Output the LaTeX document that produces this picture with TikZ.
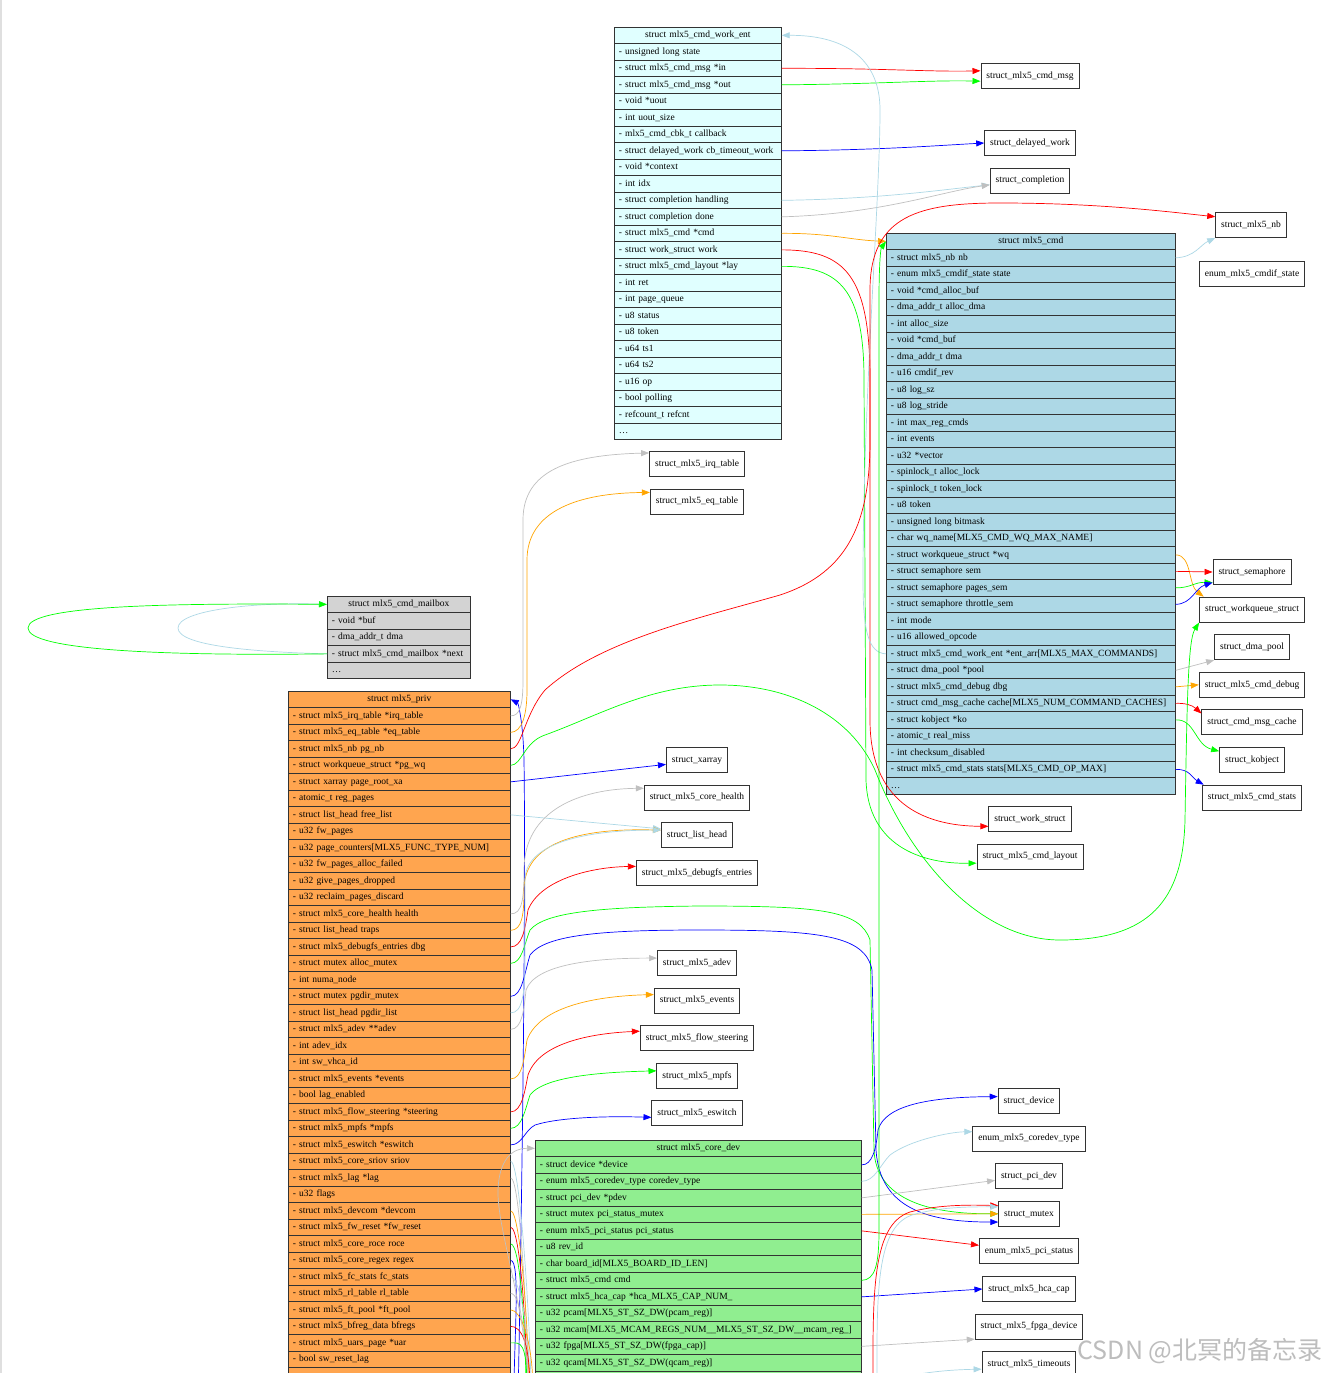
\documentclass[tikz,border=0pt]{standalone}
\usepackage{fontspec}
\setmainfont{Liberation Serif}
\newfontfamily\wmfont{Noto Sans CJK SC}
\usetikzlibrary{arrows.meta,positioning}
\definecolor{entfill}{RGB}{224,255,255}
\definecolor{cmdfill}{RGB}{173,216,230}
\definecolor{mboxfill}{RGB}{211,211,211}
\definecolor{privfill}{RGB}{255,165,79}
\definecolor{corefill}{RGB}{144,238,144}
\definecolor{ered}{RGB}{255,0,0}
\definecolor{egreen}{RGB}{0,255,0}
\definecolor{eblue}{RGB}{0,0,255}
\definecolor{egray}{RGB}{192,192,192}
\definecolor{elblue}{RGB}{173,216,230}
\definecolor{eorange}{RGB}{255,165,0}

\begin{document}
\begin{tikzpicture}[x=1pt,y=-1pt,node distance=11.7pt,
  rowbox/.style={draw=black!80,line width=0.7pt,anchor=north west,minimum height=16.5pt,
                 inner xsep=4.5pt,inner ysep=0pt,text height=7pt,text depth=2.5pt,
                 align=left,font=\fontsize{9.5}{11}\selectfont},
  headbox/.style={rowbox,align=center},
  typebox/.style={draw=black!80,line width=0.9pt,fill=white,minimum height=25pt,
                  inner xsep=5.5pt,text height=7pt,text depth=2.5pt,
                  font=\fontsize{9.5}{11}\selectfont},
  arr/.style={-{Triangle[length=8pt,width=6pt]},line width=0.7pt}]
  \useasboundingbox (0,0) rectangle (1329,1373);
  \clip (0,0) rectangle (1329,1373);
  \fill[white] (0,0) rectangle (1329,1373);
  \draw[gray!25,line width=2pt] (1,0) -- (1,1373);

  \node[headbox,fill=entfill,text width=158pt] (ent0) at (614,26.75) {struct mlx5\_cmd\_work\_ent};
  \foreach \fld [count=\i] in {- unsigned long state,- struct mlx5\_cmd\_msg *in,- struct mlx5\_cmd\_msg *out,
      - void *uout,- int uout\_size,- mlx5\_cmd\_cbk\_t callback,- struct delayed\_work cb\_timeout\_work,
      - void *context,- int idx,- struct completion handling,- struct completion done,
      - struct mlx5\_cmd *cmd,- struct work\_struct work,- struct mlx5\_cmd\_layout *lay,- int ret,
      - int page\_queue,- u8 status,- u8 token,- u64 ts1,- u64 ts2,- u16 op,- bool polling,
      - refcount\_t refcnt,\ldots}
    \node[rowbox,fill=entfill,text width=158pt] (ent\i) at (614,{26.75+16.5*\i}) {\mbox{\fld}};

  \node[headbox,fill=cmdfill,text width=280pt] (cmd0) at (886,232.75) {struct mlx5\_cmd};
  \foreach \fld [count=\i] in {- struct mlx5\_nb nb,- enum mlx5\_cmdif\_state state,- void *cmd\_alloc\_buf,
      - dma\_addr\_t alloc\_dma,- int alloc\_size,- void *cmd\_buf,- dma\_addr\_t dma,- u16 cmdif\_rev,
      - u8 log\_sz,- u8 log\_stride,- int max\_reg\_cmds,- int events,- u32 *vector,
      - spinlock\_t alloc\_lock,- spinlock\_t token\_lock,- u8 token,- unsigned long bitmask,
      - char wq\_name[MLX5\_CMD\_WQ\_MAX\_NAME],- struct workqueue\_struct *wq,
      - struct semaphore sem,- struct semaphore pages\_sem,- struct semaphore throttle\_sem,
      - int mode,- u16 allowed\_opcode,- struct mlx5\_cmd\_work\_ent *ent\_arr[MLX5\_MAX\_COMMANDS],
      - struct dma\_pool *pool,- struct mlx5\_cmd\_debug dbg,
      - struct cmd\_msg\_cache cache[MLX5\_NUM\_COMMAND\_CACHES],- struct kobject *ko,
      - atomic\_t real\_miss,- int checksum\_disabled,- struct mlx5\_cmd\_stats stats[MLX5\_CMD\_OP\_MAX],\ldots}
    \node[rowbox,fill=cmdfill,text width=280pt] (cmd\i) at (886,{232.75+16.5*\i}) {\mbox{\fld}};

  \node[headbox,fill=mboxfill,text width=134pt] (mbox0) at (327,595.75) {struct mlx5\_cmd\_mailbox};
  \foreach \fld [count=\i] in {- void *buf,- dma\_addr\_t dma,- struct mlx5\_cmd\_mailbox *next,\ldots}
    \node[rowbox,fill=mboxfill,text width=134pt] (mbox\i) at (327,{595.75+16.5*\i}) {\mbox{\fld}};

  \node[headbox,fill=privfill,text width=213pt] (priv0) at (288,690.75) {struct mlx5\_priv};
  \foreach \fld [count=\i] in {- struct mlx5\_irq\_table *irq\_table,- struct mlx5\_eq\_table *eq\_table,
      - struct mlx5\_nb pg\_nb,- struct workqueue\_struct *pg\_wq,- struct xarray page\_root\_xa,
      - atomic\_t reg\_pages,- struct list\_head free\_list,- u32 fw\_pages,
      - u32 page\_counters[MLX5\_FUNC\_TYPE\_NUM],- u32 fw\_pages\_alloc\_failed,
      - u32 give\_pages\_dropped,- u32 reclaim\_pages\_discard,- struct mlx5\_core\_health health,
      - struct list\_head traps,- struct mlx5\_debugfs\_entries dbg,- struct mutex alloc\_mutex,
      - int numa\_node,- struct mutex pgdir\_mutex,- struct list\_head pgdir\_list,
      - struct mlx5\_adev **adev,- int adev\_idx,- int sw\_vhca\_id,- struct mlx5\_events *events,
      - bool lag\_enabled,- struct mlx5\_flow\_steering *steering,- struct mlx5\_mpfs *mpfs,
      - struct mlx5\_eswitch *eswitch,- struct mlx5\_core\_sriov sriov,- struct mlx5\_lag *lag,
      - u32 flags,- struct mlx5\_devcom *devcom,- struct mlx5\_fw\_reset *fw\_reset,
      - struct mlx5\_core\_roce roce,- struct mlx5\_core\_regex regex,- struct mlx5\_fc\_stats fc\_stats,
      - struct mlx5\_rl\_table rl\_table,- struct mlx5\_ft\_pool *ft\_pool,
      - struct mlx5\_bfreg\_data bfregs,- struct mlx5\_uars\_page *uar,- bool sw\_reset\_lag,{}}
    \node[rowbox,fill=privfill,text width=213pt] (priv\i) at (288,{690.75+16.5*\i}) {\mbox{\fld}};

  \node[headbox,fill=corefill,text width=317pt] (core0) at (535,1139.75) {struct mlx5\_core\_dev};
  \foreach \fld [count=\i] in {- struct device *device,- enum mlx5\_coredev\_type coredev\_type,
      - struct pci\_dev *pdev,- struct mutex pci\_status\_mutex,- enum mlx5\_pci\_status pci\_status,
      - u8 rev\_id,- char board\_id[MLX5\_BOARD\_ID\_LEN],- struct mlx5\_cmd cmd,
      - struct mlx5\_hca\_cap *hca\_MLX5\_CAP\_NUM\_,- u32 pcam[MLX5\_ST\_SZ\_DW(pcam\_reg)],
      - u32 mcam[MLX5\_MCAM\_REGS\_NUM\_\_MLX5\_ST\_SZ\_DW\_\_mcam\_reg\_],
      - u32 fpga[MLX5\_ST\_SZ\_DW(fpga\_cap)],- u32 qcam[MLX5\_ST\_SZ\_DW(qcam\_reg)],{}}
    \node[rowbox,fill=corefill,text width=317pt] (core\i) at (535,{1139.75+16.5*\i}) {\mbox{\fld}};

  \node[typebox] (cmdmsg) at (1030,76) {struct\_mlx5\_cmd\_msg};
  \node[typebox] (delayed) at (1030,143) {struct\_delayed\_work};
  \node[typebox,below=of delayed] (compl) {struct\_completion};
  \node[typebox] (mlxnb) at (1251,225) {struct\_mlx5\_nb};
  \node[typebox] (cmdifst) at (1252,274) {enum\_mlx5\_cmdif\_state};
  \node[typebox] (sem) at (1252,572) {struct\_semaphore};
  \node[typebox,below=of sem] (wqs) {struct\_workqueue\_struct};
  \node[typebox,below=of wqs] (dpool) {struct\_dma\_pool};
  \node[typebox,below=of dpool] (cdebug) {struct\_mlx5\_cmd\_debug};
  \node[typebox,below=of cdebug] (mcache) {struct\_cmd\_msg\_cache};
  \node[typebox,below=of mcache] (kobj) {struct\_kobject};
  \node[typebox,below=of kobj] (cstats) {struct\_mlx5\_cmd\_stats};
  \node[typebox] (wstruct) at (1030,819) {struct\_work\_struct};
  \node[typebox,below=of wstruct] (clayout) {struct\_mlx5\_cmd\_layout};
  \node[typebox] (irqt) at (697,464) {struct\_mlx5\_irq\_table};
  \node[typebox,below=of irqt] (eqt) {struct\_mlx5\_eq\_table};
  \node[typebox] (xarr) at (697,760) {struct\_xarray};
  \node[typebox,below=of xarr] (chealth) {struct\_mlx5\_core\_health};
  \node[typebox,below=of chealth] (lhead) {struct\_list\_head};
  \node[typebox,below=of lhead] (dfs) {struct\_mlx5\_debugfs\_entries};
  \node[typebox] (madev) at (697,963) {struct\_mlx5\_adev};
  \node[typebox,below=of madev] (mevents) {struct\_mlx5\_events};
  \node[typebox,below=of mevents] (flow) {struct\_mlx5\_flow\_steering};
  \node[typebox,below=of flow] (mmpfs) {struct\_mlx5\_mpfs};
  \node[typebox,below=of mmpfs] (meswitch) {struct\_mlx5\_eswitch};
  \node[typebox] (sdevice) at (1029,1101) {struct\_device};
  \node[typebox,below=of sdevice] (ecdtype) {enum\_mlx5\_coredev\_type};
  \node[typebox,below=of ecdtype] (pcidev) {struct\_pci\_dev};
  \node[typebox,below=of pcidev] (smutex) {struct\_mutex};
  \node[typebox,below=of smutex] (epcis) {enum\_mlx5\_pci\_status};
  \node[typebox,below=of epcis] (hcacap) {struct\_mlx5\_hca\_cap};
  \node[typebox,below=of hcacap] (fpgadev) {struct\_mlx5\_fpga\_device};
  \node[typebox,below=of fpgadev] (tmo) {struct\_mlx5\_timeouts};

  \draw[arr,elblue] (mbox3.west) .. controls (255,652) and (178,646) .. (178,628)
    .. controls (178,610) and (255,602) .. (mbox0.west);
  \draw[arr,egreen] (mbox3.west) .. controls (160,656) and (28,650) .. (28,628)
    .. controls (28,606) and (160,603) .. (mbox0.west);

  \draw[arr,ered] (ent2.east) .. controls (880,68) and (930,72) .. (cmdmsg.174);
  \draw[arr,egreen] (ent3.east) .. controls (880,84) and (930,80) .. (cmdmsg.186);
  \draw[arr,eblue] (ent7.east) .. controls (880,150) and (930,146) .. (delayed.west);
  \draw[arr,elblue] (ent10.east) .. controls (880,199) and (940,190) .. (compl.186);
  \draw[arr,egray] (ent11.east) .. controls (880,214) and (940,192) .. (compl.186);
  \draw[arr,eorange] (ent12.east) .. controls (830,233) and (850,240) .. (cmd0.west);
  \draw[arr,ered] (ent13.east) .. controls (845,250) and (870,275) .. (870,380) -- (870,720)
    .. controls (870,800) and (920,826) .. (wstruct.190);
  \draw[arr,egreen] (ent14.east) .. controls (840,266) and (864,290) .. (864,380) -- (866,780)
    .. controls (868,845) and (920,864) .. (clayout.187);

  \draw[arr,elblue] (cmd25.west) .. controls (868,653) and (863,630) .. (863,580)
    .. controls (863,400) and (880,200) .. (880,110) .. controls (880,55) and (840,35) .. (ent0.east);
  \draw[arr,elblue] (cmd1.east) .. controls (1195,257) and (1200,245) .. (mlxnb.south west);
  \draw[arr,eorange] (cmd19.east) .. controls (1192,555) and (1188,585) .. (wqs.165);
  \draw[arr,ered] (cmd20.east) -- (sem.west);
  \draw[arr,egreen] (cmd21.east) .. controls (1190,588) and (1195,582) .. (sem.195);
  \draw[arr,eblue] (cmd22.east) .. controls (1192,604) and (1195,588) .. (sem.195);
  \draw[arr,egray] (cmd26.east) -- (dpool.south west);
  \draw[arr,eorange] (cmd27.east) -- (cdebug.west);
  \draw[arr,ered] (cmd28.east) .. controls (1185,703) and (1192,705) .. (mcache.170);
  \draw[arr,egreen] (cmd29.east) .. controls (1195,719) and (1195,745) .. (kobj.165);
  \draw[arr,eblue] (cmd32.east) .. controls (1190,769) and (1192,778) .. (cstats.165);

  \coordinate (privsrc) at (518,1400);
  \draw[arr,eblue] (privsrc) .. controls (522,1200) and (526,900) .. (524,760)
    .. controls (523,720) and (518,703) .. (priv0.east);
  \draw[arr,egray] (priv1.east) .. controls (520,716) and (523,705) .. (523,680) -- (523,520)
    .. controls (523,470) and (570,455) .. (irqt.167);
  \draw[arr,eorange] (priv2.east) .. controls (522,732) and (527,715) .. (527,690) -- (527,560)
    .. controls (527,510) and (580,493) .. (eqt.169);
  \draw[arr,ered] (priv3.east) .. controls (522,749) and (524,715) .. (545,690)
    .. controls (600,640) and (700,618) .. (780,595) .. controls (850,572) and (870,520) .. (870,440)
    -- (870,290) .. controls (870,215) and (920,203) .. (1000,203)
    .. controls (1100,203) and (1170,212) .. (mlxnb.167);
  \draw[arr,egreen] (priv4.east) .. controls (522,765) and (524,742) .. (545,735)
    .. controls (600,715) and (650,685) .. (720,685) .. controls (790,685) and (850,715) .. (875,770)
    .. controls (910,860) and (980,940) .. (1060,940) .. controls (1150,940) and (1183,900) .. (1185,820)
    .. controls (1187,700) and (1188,640) .. (wqs.south west);
  \draw[arr,eblue] (priv5.east) -- (xarr.188);
  \draw[arr,elblue] (priv7.east) -- (lhead.170);
  \draw[arr,egray] (priv13.east) .. controls (522,914) and (524,900) .. (524,870)
    .. controls (524,810) and (580,789) .. (chealth.170);
  \draw[arr,eorange] (priv14.east) .. controls (522,930) and (524,915) .. (524,890)
    .. controls (524,842) and (580,828) .. (lhead.172);
  \draw[arr,ered] (priv15.east) .. controls (522,947) and (525,930) .. (528,910)
    .. controls (540,880) and (590,867) .. (dfs.174);
  \draw[arr,egreen] (priv16.east) .. controls (522,963) and (524,945) .. (530,930)
    .. controls (545,912) and (600,907) .. (700,906) .. controls (820,906) and (860,910) .. (870,940)
    -- (874,1150) .. controls (876,1200) and (930,1214) .. (smutex.west);
  \draw[arr,eblue] (priv18.east) .. controls (522,996) and (524,975) .. (530,955)
    .. controls (545,935) and (600,930) .. (700,930) .. controls (820,930) and (865,935) .. (872,970)
    -- (876,1150) .. controls (880,1210) and (930,1222) .. (smutex.195);
  \draw[arr,elblue] (priv19.east) .. controls (522,1013) and (525,995) .. (525,960) -- (525,880)
    .. controls (525,845) and (580,830) .. (lhead.172);
  \draw[arr,egray] (priv20.east) .. controls (522,1029) and (524,1010) .. (526,990)
    .. controls (535,965) and (590,958) .. (madev.173);
  \draw[arr,eorange] (priv23.east) .. controls (522,1079) and (524,1060) .. (527,1040)
    .. controls (540,1005) and (600,996) .. (mevents.172);
  \draw[arr,ered] (priv25.east) .. controls (522,1112) and (525,1090) .. (528,1075)
    .. controls (540,1040) and (600,1033) .. (flow.173);
  \draw[arr,egreen] (priv26.east) .. controls (522,1128) and (525,1110) .. (530,1095)
    .. controls (545,1075) and (610,1072) .. (mmpfs.173);
  \draw[arr,eblue] (priv27.east) .. controls (522,1145) and (525,1130) .. (535,1125)
    .. controls (560,1117) and (610,1116) .. (meswitch.185);
  \foreach \rw/\col/\x in {28/elblue/531,29/egray/528,31/eorange/529,32/ered/527,33/egreen/526,
      34/eblue/514,35/elblue/530,36/egray/527,37/eorange/533,38/ered/530,39/egreen/527}{
    \coordinate (low\rw) at (\x,1400);
    \draw[arr,\col] (priv\rw.east) .. controls +(10,0) and +(0,-60) .. (low\rw);
  }

  \coordinate (coresrc) at (530,1400);
  \draw[arr,egray] (coresrc) .. controls (525,1300) and (497,1230) .. (498,1190)
    .. controls (499,1160) and (512,1148) .. (core0.west);
  \draw[arr,eblue] (core1.east) .. controls (872,1165) and (876,1150) .. (878,1130)
    .. controls (885,1105) and (930,1097) .. (sdevice.172);
  \draw[arr,elblue] (core2.east) .. controls (875,1181) and (880,1165) .. (890,1155)
    .. controls (910,1140) and (950,1132) .. (ecdtype.173);
  \draw[arr,egray] (core3.east) -- (pcidev.187);
  \draw[arr,eorange] (core4.east) -- (smutex.west);
  \draw[arr,ered] (core5.east) -- (epcis.173);
  \draw[arr,egreen] (core8.east) .. controls (875,1280) and (879,1265) .. (879,1230) -- (879,300)
    .. controls (879,260) and (881,248) .. (cmd0.west);
  \draw[arr,eblue] (core9.east) -- (hcacap.west);
  \draw[arr,egray] (core12.east) -- (fpgadev.193);
  \coordinate (tmosrc) at (862,1395);
  \draw[arr,elblue] (tmosrc) .. controls (880,1378) and (930,1370) .. (tmo.186);
  \coordinate (mtxsrca) at (873,1400);
  \coordinate (mtxsrcb) at (877,1400);
  \draw[arr,ered] (mtxsrca) .. controls (873,1300) and (870,1225) .. (910,1212)
    .. controls (940,1204) and (975,1205) .. (smutex.165);
  \draw[arr,elblue] (mtxsrcb) .. controls (877,1300) and (874,1228) .. (912,1215)
    .. controls (942,1206) and (975,1207) .. (smutex.167);

  \node[text=black!26,font=\wmfont\fontsize{25}{29}\selectfont] (wmark) at (1200,1351) {CSDN @北冥的备忘录};
\end{tikzpicture}
\end{document}
